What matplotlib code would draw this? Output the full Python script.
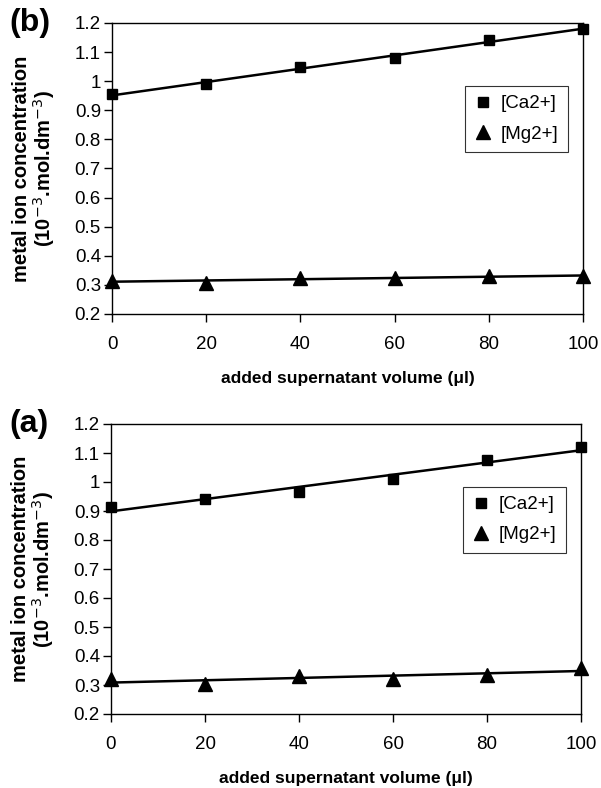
import numpy as np
import matplotlib
matplotlib.use("Agg")
import matplotlib.pyplot as plt

plt.rcParams['font.family'] = ['Liberation Sans', 'DejaVu Sans']

# added supernatant volume (ul)
volume = [0, 20, 40, 60, 80, 100]

# panel (b)
ca_b = [0.955, 0.99, 1.05, 1.08, 1.14, 1.18]
mg_b = [0.315, 0.305, 0.325, 0.325, 0.33, 0.33]

# panel (a)
ca_a = [0.915, 0.94, 0.965, 1.01, 1.075, 1.12]
mg_a = [0.32, 0.305, 0.33, 0.32, 0.335, 0.36]

yticks = [0.2, 0.3, 0.4, 0.5, 0.6, 0.7, 0.8, 0.9, 1.0, 1.1, 1.2]
ytick_labels = ['0.2', '0.3', '0.4', '0.5', '0.6', '0.7', '0.8', '0.9', '1', '1.1', '1.2']

fig = plt.figure(figsize=(6.01, 7.88), dpi=100)
ax_b = fig.add_axes([112 / 601, 1 - 314 / 788, 471 / 601, 291 / 788])
ax_a = fig.add_axes([111 / 601, 1 - 714 / 788, 470 / 601, 290 / 788])


def draw_panel(ax, ca, mg, tag):
    x = np.array(volume, dtype=float)
    # linear trend lines, fitted to the points
    for vals in (ca, mg):
        k, b = np.polyfit(x, vals, 1)
        ax.plot([0, 100], [b, b + 100 * k], color='black', lw=1.8, zorder=2)
    ax.plot(x, ca, ls='none', marker='s', ms=7.5, color='black',
            label='[Ca2+]', zorder=3, clip_on=False)
    ax.plot(x, mg, ls='none', marker='^', ms=10.5, color='black',
            label='[Mg2+]', zorder=3, clip_on=False)

    ax.set_xlim(0, 100)
    ax.set_ylim(0.2, 1.2)
    ax.set_xticks(volume)
    ax.set_yticks(yticks)
    ax.set_yticklabels(ytick_labels)
    ax.tick_params(direction='out', length=6, width=1, labelsize=13.5,
                   colors='black')
    ax.tick_params(axis='x', pad=10)
    ax.tick_params(axis='y', pad=2)
    for s in ax.spines.values():
        s.set_linewidth(1.0)
        s.set_color('black')

    ax.set_xlabel('added supernatant volume (\u03bcl)', fontsize=12.5,
                  fontweight='bold', labelpad=13)
    ax.set_ylabel('metal ion concentration\n(10$^{-3}$.mol.dm$^{-3}$)',
                  fontsize=14.5, fontweight='bold', labelpad=13, linespacing=1.0)

    leg = ax.legend(loc='upper right', bbox_to_anchor=(0.968, 0.784),
                    borderaxespad=0, fontsize=13.5, frameon=True,
                    fancybox=False, handlelength=0.9, handletextpad=0.5,
                    borderpad=0.5, labelspacing=0.7)
    leg.get_frame().set_edgecolor('black')
    leg.get_frame().set_linewidth(0.8)

    ax.text(-0.217, 1.0, tag, transform=ax.transAxes, fontsize=23,
            fontweight='bold', ha='left', va='center')


draw_panel(ax_b, ca_b, mg_b, '(b)')
draw_panel(ax_a, ca_a, mg_a, '(a)')

fig.savefig('out.png', dpi=100)
